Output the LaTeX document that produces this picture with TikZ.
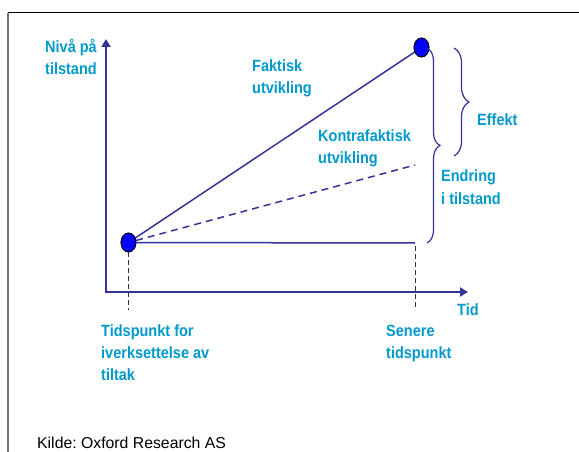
\documentclass[tikz,border=0pt]{standalone}
\usepackage{fontspec}
\setmainfont{Liberation Sans}
\newfontfamily\lblfont{Liberation Sans}[FakeStretch=0.89]
\usetikzlibrary{shapes.geometric,decorations.pathreplacing,arrows.meta}
\definecolor{lblue}{HTML}{0099CC}
\definecolor{lineblue}{HTML}{333399}
\definecolor{dotblue}{HTML}{0000FF}
\frenchspacing
\begin{document}
\begin{tikzpicture}[x=1pt,y=-1pt,
  lbl/.style={font=\lblfont\fontsize{16.3}{22}\selectfont\bfseries, text=lblue, anchor=base west, inner sep=0pt, align=left},
  dotnode/.style={ellipse, draw=black, line width=0.8pt, fill=dotblue, minimum width=15pt, minimum height=19pt, inner sep=0pt},
  axisline/.style={draw=lineblue, line width=2.8pt, line join=miter},
  trendline/.style={draw=lineblue, line width=1.5pt},
  cfline/.style={draw=lineblue, line width=1.5pt, dash pattern=on 7pt off 5pt},
  guide/.style={draw=black!80, line width=0.8pt, dash pattern=on 5pt off 3pt},
  bracestyle/.style={draw=lineblue, line width=1.2pt, decorate, decoration={brace, amplitude=#1}},
]
\useasboundingbox (0,0) rectangle (579,452);
% frame
\draw[black, line width=1pt] (8,13) -- (579,13);
\draw[black!55, line width=1.6pt] (8,13.5) -- (8,452);
% axes
\coordinate (ytop) at (106,39);
\coordinate (origin) at (106,292);
\coordinate (xend) at (468,292);
\draw[axisline, {Triangle[length=8pt,width=9pt]}-{Triangle[length=8pt,width=9pt]}] (ytop) -- (origin) -- (xend);
% guides and lines
\coordinate (h1) at (415,243);
\coordinate (c1) at (415,165);
\coordinate (t0) at (128.5,310);
\coordinate (t1) at (415,310);
\coordinate (g1) at (415,246);
\node[dotnode] (d0) at (128.5,242.5) {};
\node[dotnode] (d1) at (421.5,47.5) {};
\draw[guide] (d0.south) -- (t0);
\draw[guide] (g1) -- (t1);
\draw[trendline] (d0) -- (d1);
\draw[trendline] (d0) -- (h1);
\draw[cfline] (d0) -- (c1);
\node[dotnode] at (d0) {};
\node[dotnode] at (d1) {};
% braces
\coordinate (b1top) at (427,48);
\coordinate (b1bot) at (427,243);
\coordinate (b2top) at (454,48);
\coordinate (b2bot) at (454,156);
\draw[bracestyle=13pt] (b1top) -- (b1bot);
\draw[bracestyle=15pt] (b2top) -- (b2bot);
% labels (base = baseline of last line)
\node[lbl] (nivaa) at (45,75) {Nivå på\\tilstand};
\node[lbl] (faktisk) at (252,94) {Faktisk\\utvikling};
\node[lbl] (kontra) at (318,163) {Kontrafaktisk\\utvikling};
\node[lbl] (effekt) at (477,125) {Effekt};
\node[lbl] (endring) at (441,204) {Endring\\i tilstand};
\node[lbl] (tid) at (457,315) {Tid};
\node[lbl] (tidspunkt) at (101,380) {Tidspunkt for\\iverksettelse av\\tiltak};
\node[lbl] (senere) at (386,358) {Senere\\tidspunkt};
\node[anchor=base west, inner sep=0pt, font=\fontsize{15.8}{18}\selectfont] (kilde) at (37,448) {Kilde: Oxford Research AS};
\end{tikzpicture}
\end{document}
